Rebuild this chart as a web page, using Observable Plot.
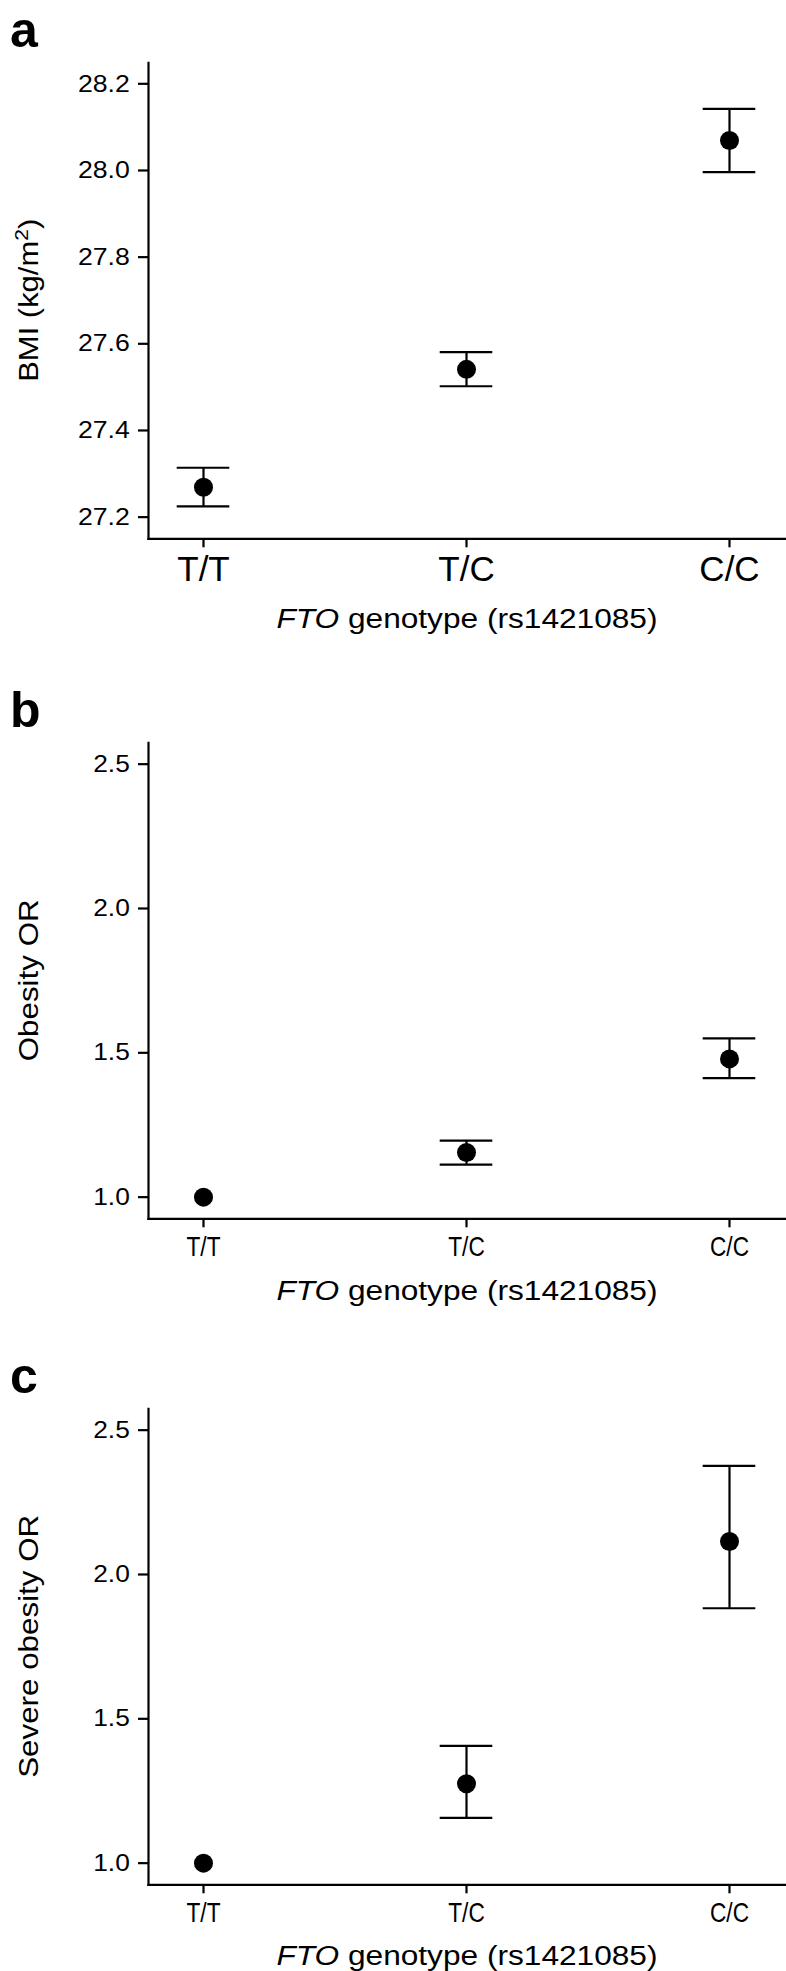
<!DOCTYPE html>
<html>
<head>
<meta charset="utf-8">
<script src="https://cdn.jsdelivr.net/npm/d3@7"></script>
<script src="https://cdn.jsdelivr.net/npm/@observablehq/plot@0.6"></script>
<style>
  html, body { margin: 0; padding: 0; background: #fff; }
  #root { position: relative; width: 786px; height: 1971px; overflow: hidden; background: #fff; }
  .panel { position: absolute; left: 0; }
  svg { display: block; }
</style>
</head>
<body>
<div id="root"></div>
<script>
// ---------- data ----------
const genotypes = ["T/T", "T/C", "C/C"];

const bmiMean = [27.269, 27.541, 28.069];
const bmiLow  = [27.225, 27.502, 27.996];
const bmiHigh = [27.314, 27.581, 28.142];

const obesityOR   = [1.0, 1.155, 1.479];
const obesityLow  = [null, 1.113, 1.412];
const obesityHigh = [null, 1.196, 1.550];

const severeOR   = [1.0, 1.275, 2.114];
const severeLow  = [null, 1.157, 1.883];
const severeHigh = [null, 1.406, 2.376];

const bmiTicks = [27.2, 27.4, 27.6, 27.8, 28.0, 28.2];
const orTicks  = [1.0, 1.5, 2.0, 2.5];

const panelLetters = ["a", "b", "c"];
const yTitles = ["BMI (kg/m|2|)", "Obesity OR", "Severe obesity OR"];
const xTitleItalic = "FTO";
const xTitleRest = " genotype (rs1421085)";

// ---------- layout ----------
const FONT = "'Liberation Sans', Arial, Helvetica, sans-serif";
const W = 786, ML = 148, MT = 62.3, FH = 476;
const CAP = 26.3;

const panels = [
  {top: 0,    height: 640, mean: bmiMean,   low: bmiLow,      high: bmiHigh,
   domain: [27.150, 28.2485], ticks: bmiTicks, titleLen: 163,
   yTickFont: 24, yTickStretch: 1.11, xTickFont: 35, xTickStretch: 1.0, xTitleGap: 90},
  {top: 680,  height: 640, mean: obesityOR, low: obesityLow,  high: obesityHigh,
   domain: [0.925, 2.574], ticks: orTicks, titleLen: 162,
   yTickFont: 23.5, yTickStretch: 1.12, xTickFont: 28, xTickStretch: 0.81, xTitleGap: 82},
  {top: 1346, height: 625, mean: severeOR,  low: severeLow,   high: severeHigh,
   domain: [0.925, 2.574], ticks: orTicks, titleLen: 263,
   yTickFont: 23.5, yTickStretch: 1.12, xTickFont: 28, xTickStretch: 0.81, xTitleGap: 81}
];

const root = document.getElementById("root");

panels.forEach((p, k) => {
  try {
  const rows = genotypes.map((g, i) => ({g, m: p.mean[i], lo: p.low[i], hi: p.high[i]}));
  const ci = rows.filter(d => d.lo != null && d.hi != null);

  const plot = Plot.plot({
    width: W,
    height: p.height,
    marginLeft: ML,
    marginRight: 0,
    marginTop: MT,
    marginBottom: p.height - MT - FH,
    style: {fontFamily: FONT, color: "#000", background: "#fff", overflow: "visible"},
    x: {type: "point", domain: genotypes, range: [202.7, 728.7], padding: 0},
    y: {domain: p.domain},
    marks: [
      Plot.frame({anchor: "left", strokeWidth: 2.2, stroke: "#000"}),
      Plot.frame({anchor: "bottom", strokeWidth: 2.2, stroke: "#000"}),
      Plot.axisY({ticks: p.ticks, tickFormat: d => d.toFixed(1), tickSize: 10, tickPadding: 8.7,
                  fontSize: p.yTickFont, label: null, strokeWidth: 2.2}),
      Plot.axisX({tickSize: 9, tickPadding: 8, fontSize: p.xTickFont, label: null, strokeWidth: 2.2}),
      Plot.ruleX(ci, {x: "g", y1: "lo", y2: "hi", stroke: "#000", strokeWidth: 2.2}),
      Plot.ruleY(ci, {x1: "g", x2: "g", y: "lo", stroke: "#000", strokeWidth: 2.2, insetLeft: -CAP, insetRight: -CAP}),
      Plot.ruleY(ci, {x1: "g", x2: "g", y: "hi", stroke: "#000", strokeWidth: 2.2, insetLeft: -CAP, insetRight: -CAP}),
      Plot.dot(rows, {x: "g", y: "m", r: 9.5, fill: "#000", stroke: null})
    ]
  });

  const wrap = document.createElement("div");
  wrap.className = "panel";
  wrap.style.top = p.top + "px";
  wrap.appendChild(plot);
  root.appendChild(wrap);

  const svg = d3.select(plot);

  const stretch = (sel, ratio) => {
    if (ratio === 1) return;
    sel.each(function () {
      const n = this.getComputedTextLength();
      d3.select(this).attr("textLength", n * ratio).attr("lengthAdjust", "spacingAndGlyphs");
    });
  };
  stretch(svg.selectAll('g[aria-label="y-axis tick label"] text'), p.yTickStretch);
  stretch(svg.selectAll('g[aria-label="x-axis tick label"] text'), p.xTickStretch);

  svg.append("text")
    .attr("x", 10).attr("y", 46.7)
    .attr("text-anchor", "start")
    .attr("font-family", FONT).attr("font-weight", "bold").attr("font-size", 50)
    .attr("fill", "#000")
    .text(panelLetters[k]);

  const cy = MT + FH / 2;
  const yt = svg.append("text")
    .attr("transform", `translate(38,${cy}) rotate(-90)`)
    .attr("text-anchor", "middle")
    .attr("font-family", FONT).attr("font-size", 28).attr("fill", "#000");
  const parts = yTitles[k].split("|");
  if (parts.length === 3) {
    yt.append("tspan").text(parts[0]);
    yt.append("tspan").attr("font-size", 19).attr("dy", -10).text(parts[1]);
    yt.append("tspan").attr("dy", 10).text(parts[2]);
  } else {
    yt.append("tspan").text(parts[0]);
  }
  yt.attr("textLength", p.titleLen).attr("lengthAdjust", "spacingAndGlyphs");

  const xt = svg.append("text")
    .attr("x", (ML + W) / 2).attr("y", MT + FH + p.xTitleGap)
    .attr("text-anchor", "middle")
    .attr("font-family", FONT).attr("font-size", 27).attr("fill", "#000");
  xt.append("tspan").attr("font-style", "italic").text(xTitleItalic);
  xt.append("tspan").text(xTitleRest);
  xt.attr("textLength", 381).attr("lengthAdjust", "spacingAndGlyphs");
  } catch (e) { console.error(e); }
});
</script>
</body>
</html>
